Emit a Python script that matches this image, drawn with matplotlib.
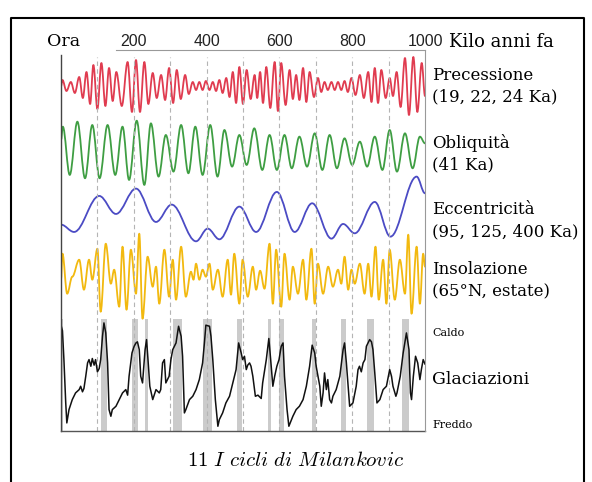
import numpy as np
import matplotlib.pyplot as plt
from matplotlib.path import Path
from matplotlib.patches import PathPatch

plt.rcParams['mathtext.fontset'] = 'cm'

W, H = 592, 482

# ages in Ka (kilo anni fa) (extrema of each curve)
prec_age = [0, 4, 15, 27, 38, 50, 60, 70, 80, 89, 100, 111, 122, 132, 142, 152, 167, 183, 195, 206,
            217, 229, 240, 252, 263, 275, 286, 297, 308, 318, 329, 341, 351, 362, 371, 380, 389, 398, 408, 417,
            426, 435, 444, 454, 463, 472, 481, 490, 500, 510, 521, 532, 539, 547, 555, 564, 575, 587, 596, 605,
            617, 628, 637, 646, 655, 665, 674, 683, 695, 706, 715, 724, 733, 743, 752, 761, 770, 779, 788, 798,
            809, 821, 832, 844, 853, 862, 871, 880, 892, 903, 912, 922, 933, 945, 956, 968, 979, 991, 1000]
prec_val = [0, 6, -5, 4, -7, 9, -12, 14, -18, 21, -23, 23, -20, 18, -15, 14, -20, 24, -26, 26,
            -26, 24, -18, 13, -12, 11, -14, 18, -17, 16, -13, 11, -8, 4, -4, 4, -4, 5, -4, 4,
            -5, 6, -7, 8, -11, 14, -17, 19, -18, 16, -13, 11, -12, 14, -17, 19, -22, 24, -25, 23,
            -19, 16, -13, 11, -14, 18, -16, 14, -11, 8, -6, 4, -4, 4, -4, 4, -4, 5, -6, 8,
            -9, 11, -12, 14, -16, 18, -17, 16, -12, 8, -10, 14, -21, 28, -29, 29, -26, 23, -10]

obl_age = [0, 5, 24, 45, 66, 86, 106, 128, 149, 169, 187, 208, 229, 247, 268, 288, 309, 330, 350, 369,
           389, 410, 430, 449, 470, 490, 510, 531, 553, 573, 593, 614, 634, 655, 676, 697, 718, 738, 758, 779,
           800, 821, 841, 862, 883, 903, 923, 945, 966, 986, 1000]
obl_val = [4, 8, -6.5, 9.5, -7.5, 8.5, -7.5, 8.5, -6.5, 8, -8, 9.8, -9.5, 9, -7, 5.5, -5.5, 8.5, -6, 8,
           -6.5, 8.5, -7, 7, -4, 5.5, -3.5, 7.5, -5, 5.5, -5, 5.5, -4.5, 5, -4, 6, -5, 5.5, -4.5, 4.5,
           -3.5, 3.5, -4, 5, -5, 7, -5.5, 6, -4.5, 5, 3]

ecc_age = [0, 36, 105, 151, 206, 261, 304, 371, 403, 435, 490, 536, 593, 642, 690, 743, 775, 807, 862, 905,
           977, 1000]
ecc_val = [28, 17, 71, 44, 82, 32, 58, 3, 22, 6, 55, 17, 77, 17, 60, 7, 29, 15, 62, 10,
           100, 75]

ins_age = [0, 4, 17, 31, 50, 63, 77, 86, 100, 109, 123, 137, 146, 160, 169, 180, 192, 206, 215, 224,
           238, 252, 261, 270, 284, 297, 307, 316, 330, 343, 357, 364, 371, 380, 389, 398, 408, 417, 431, 444,
           458, 467, 476, 490, 499, 513, 527, 536, 547, 559, 573, 582, 591, 605, 614, 628, 637, 651, 665, 674,
           688, 697, 706, 720, 734, 747, 761, 770, 779, 789, 798, 807, 821, 834, 844, 853, 864, 873, 885, 894,
           903, 917, 931, 945, 954, 963, 977, 986, 995, 1000]
ins_val = [-3, 23, -17, 0, 17, -13, 17, -3, 28, -35, 33, -7, 7, -30, 30, -33, 27, -17, 43, -42,
           20, -10, 10, -27, 27, -20, 17, -23, 30, -20, 5, -3, 13, -3, 7, 0, 13, -13, 7, -20,
           17, -18, 23, -27, 17, -20, 10, -13, 6, -12, 33, -27, 27, -30, 23, -23, 10, -17, 17, -23,
           28, -27, 13, -17, 10, -10, 7, -7, 20, -13, 7, -7, 13, -17, 13, -20, 30, -23, 17, -27,
           27, -23, 17, -17, 42, -37, 30, -27, 23, 10]

glac_age = [0, 4, 8, 13, 16, 22, 31, 40, 50, 54, 59, 63, 68, 73, 77, 82, 86, 91, 95, 100,
            105, 109, 114, 118, 123, 128, 132, 137, 141, 151, 160, 169, 178, 183, 187, 195, 201, 206, 210, 215,
            219, 224, 231, 235, 239, 244, 252, 261, 270, 274, 279, 284, 288, 297, 302, 307, 316, 323, 330, 334,
            339, 343, 353, 362, 371, 380, 389, 394, 398, 408, 412, 417, 424, 431, 435, 444, 453, 463, 472, 481,
            488, 495, 499, 504, 509, 513, 518, 522, 527, 534, 541, 550, 554, 564, 571, 576, 582, 587, 593, 599,
            605, 610, 614, 621, 626, 637, 646, 655, 665, 674, 683, 690, 697, 701, 711, 715, 720, 724, 729, 733,
            738, 743, 747, 756, 766, 775, 779, 784, 789, 793, 802, 811, 816, 820, 825, 830, 835, 839, 848, 853,
            857, 862, 868, 876, 885, 894, 903, 908, 912, 920, 923, 932, 940, 949, 956, 960, 963, 968, 974, 980,
            986, 990, 995, 1000]
glac_val = [95, 90, 64, 25, 7, 19, 28, 34, 37, 40, 35, 38, 49, 61, 64, 58, 65, 59, 64, 53,
            56, 64, 85, 97, 88, 61, 19, 13, 19, 22, 28, 34, 37, 32, 49, 70, 76, 79, 80, 73,
            49, 43, 73, 82, 64, 40, 28, 37, 34, 37, 61, 64, 43, 49, 64, 73, 79, 94, 85, 67,
            16, 19, 28, 31, 37, 46, 61, 79, 95, 94, 85, 64, 28, 4, 10, 16, 25, 31, 43, 55,
            79, 70, 64, 67, 55, 59, 61, 58, 49, 31, 32, 29, 43, 64, 83, 64, 40, 49, 58, 64,
            76, 79, 49, 19, 4, 13, 19, 22, 28, 40, 58, 77, 70, 58, 40, 22, 34, 52, 37, 46,
            28, 25, 31, 37, 49, 73, 79, 61, 40, 22, 25, 40, 55, 58, 53, 61, 64, 76, 82, 80,
            73, 52, 25, 28, 37, 40, 55, 49, 40, 31, 34, 49, 70, 88, 73, 34, 28, 49, 67, 61,
            46, 55, 64, 60]

# warm periods (interglacials), Ka
warm_start = [0, 109, 194, 230, 309, 391, 483, 568, 599, 690, 770, 841, 938]
warm_end = [5, 126, 212, 240, 332, 415, 497, 578, 614, 700, 784, 860, 957]

ticks = [200, 400, 600, 800, 1000]


def smooth(ax, age, val, color, lw=1.3):
    # bezier through the extrema, flat tangent at each one
    verts = [(age[0], val[0])]
    codes = [Path.MOVETO]
    for i in range(1, len(age)):
        dx = (age[i] - age[i - 1]) * 0.36
        verts += [(age[i - 1] + dx, val[i - 1]), (age[i] - dx, val[i]), (age[i], val[i])]
        codes += [Path.CURVE4] * 3
    ax.add_patch(PathPatch(Path(verts, codes), fill=False, edgecolor=color, lw=lw,
                           capstyle='round', joinstyle='round'))


fig = plt.figure(figsize=(W / 100, H / 100), dpi=100)
ax = fig.add_axes([61 / W, 1 - 431 / H, (425 - 61) / W, (431 - 50) / H])
ax.set_xlim(0, 1000)
ax.set_ylim(0, 381)
ax.axis('off')

for a, b in zip(warm_start, warm_end):
    ax.fill_between([a, b], 0, 112, color='#cbcbcb', lw=0)

ax.vlines(range(100, 1000, 100), 0, 374, colors='#b4b4b4', linestyles=(0, (4, 3)), lw=0.8)

smooth(ax, prec_age, 345 + np.array(prec_val), '#e03c50')
smooth(ax, obl_age, 277.7 + 3.33 * np.array(obl_val), '#3f9e43')
smooth(ax, ecc_age, 187.7 + 0.667 * np.array(ecc_val), '#4b4bc4')
smooth(ax, ins_age, 154.3 + np.array(ins_val), '#f2b90f')
ax.plot(glac_age, 0.3 + 1.111 * np.array(glac_val), color='#111111', lw=1.1)

# frame lines of the plot
ax.plot([0, 0], [0, 376], color='#444444', lw=1, clip_on=False)
ax.plot([0, 1000], [0, 0], color='#555555', lw=1, clip_on=False)
ax.plot([1000, 1000], [0, 381], color='#999999', lw=0.8, clip_on=False)
ax.plot([150, 1000], [381, 381], color='#999999', lw=0.8, clip_on=False)

for t in ticks:
    ax.text(t, 390, str(t), ha='center', va='center', fontsize=11.5,
            family='Liberation Sans', color='#222222')

serif = 'DejaVu Serif'


def label(x, y, s, size=12):
    fig.text(x / W, 1 - y / H, s, ha='left', va='center', fontsize=size, family=serif)


label(47, 41, 'Ora', 12.5)
label(449, 42, 'Kilo anni fa', 13)
label(432, 75, 'Precessione')
label(432, 97, '(19, 22, 24 Ka)')
label(432, 143, 'Obliquità')
label(432, 165, '(41 Ka)')
label(432, 210, 'Eccentricità')
label(432, 232, '(95, 125, 400 Ka)')
label(432, 270, 'Insolazione')
label(432, 292, '(65°N, estate)')
label(432, 333, 'Caldo', 8)
label(432, 380, 'Glaciazioni', 12.5)
label(432, 425, 'Freddo', 8)

fig.text(0.5, 1 - 460 / H, r'$\mathrm{11}\ \mathit{I\ cicli\ di\ Milankovic}$',
         ha='center', va='center', fontsize=15)

# outer frame
fig.add_artist(plt.Line2D([11 / W, 11 / W, 584 / W, 584 / W], [0, 1 - 18 / H, 1 - 18 / H, 0],
                          color='black', lw=1.5))

fig.savefig('out.png', dpi=100)
